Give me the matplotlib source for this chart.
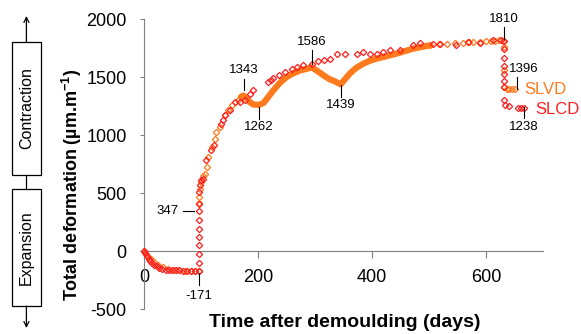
import numpy as np
import matplotlib
matplotlib.use('Agg')
import matplotlib.pyplot as plt
from matplotlib.patches import Rectangle

plt.rcParams['font.family'] = ['Liberation Sans', 'DejaVu Sans']
plt.rcParams['mathtext.fontset'] = 'custom'
plt.rcParams['mathtext.rm'] = 'Liberation Sans'
plt.rcParams['mathtext.bf'] = 'Liberation Sans:bold'
plt.rcParams['axes.unicode_minus'] = False

# SLCD (rouge)
slcd_days = [0, 2, 5, 8, 11, 14, 18, 22, 27, 32, 38, 44, 50, 56, 62, 69, 76, 83, 90, 96,
             96, 96, 96, 96, 96, 96, 96, 96, 97, 98, 100,
             104, 109, 117, 122, 136, 139, 142, 151, 160, 168, 177, 186, 192,
             218, 223, 227, 236, 247, 259, 268, 279, 294, 306, 315, 326, 338, 353,
             373, 385, 396, 408, 420, 431, 449, 472, 484, 507, 519, 548, 569, 589,
             613, 627, 631, 631, 631, 631, 631, 631, 631, 631, 634, 640, 656, 662, 667]
slcd_vals = [0, -15, -40, -63, -84, -101, -115, -129, -144, -152, -158, -162, -164, -165,
             -165, -166, -167, -168, -169, -171,
             -100, -20, 52, 124, 196, 273, 347, 411, 512, 569, 612,
             627, 790, 877, 914, 1101, 1129, 1172, 1215, 1287, 1290, 1307, 1359, 1388,
             1459, 1480, 1497, 1517, 1546, 1575, 1589, 1603, 1618, 1640, 1646, 1661, 1698,
             1704, 1704, 1718, 1704, 1704, 1718, 1733, 1733, 1776, 1796, 1790, 1790, 1776,
             1804, 1797, 1819, 1825, 1810, 1740, 1670, 1600, 1530, 1470, 1416, 1302, 1259,
             1250, 1239, 1239, 1238]

# SLVD (orange) - points isolés
slvd_days = [0, 3, 7, 12, 18, 25, 33, 42, 52, 62, 72, 82, 90, 96, 96, 97, 98, 100,
             104, 107, 110, 113, 119, 125, 127, 133, 142, 148, 154, 165, 170,
             502, 517, 531, 546, 560, 571, 578, 589, 600, 608, 615, 622, 630,
             631, 631, 631, 636, 641, 646, 651]
slvd_vals = [0, -20, -45, -70, -95, -115, -135, -150, -160, -165, -168, -169, -170, -171,
             420, 470, 540, 600, 650, 670, 727, 813, 900, 971, 1028, 1071, 1172, 1215,
             1258, 1307, 1330,
             1776, 1784, 1790, 1795, 1800, 1802, 1804, 1806, 1810, 1812, 1815, 1818, 1810,
             1760, 1560, 1420, 1396, 1396, 1396, 1396]

# SLVD - partie dense (mesures quasi journalières)
slvd_dense_days = [170, 174, 180, 186, 192, 202, 210, 218, 227, 238, 250, 262, 274, 285,
                   294, 304, 315, 325, 335, 345, 352, 361, 372, 385, 396, 408, 420, 443,
                   472, 502]
slvd_dense_vals = [1330, 1343, 1320, 1285, 1265, 1262, 1280, 1330, 1388, 1450, 1502, 1535,
                   1560, 1572, 1586, 1555, 1517, 1485, 1465, 1439, 1480, 1532, 1580, 1618,
                   1642, 1661, 1675, 1704, 1747, 1776]

orange = '#FF7A1C'
red = '#FF1E1E'
grey = '#808080'

fig = plt.figure(figsize=(5.81, 3.34), dpi=100)
ax = fig.add_axes([0.2478, 0.074, 0.6868, 0.8682])

ax.plot(slvd_dense_days, slvd_dense_vals, '-', color=orange, lw=4.5,
        solid_capstyle='round', zorder=2)
ax.plot(slvd_days, slvd_vals, 'D', color=orange, mfc='none', ms=3.2, mew=0.9,
        clip_on=False, zorder=3)
ax.plot(slcd_days, slcd_vals, 'D', color=red, mfc='none', ms=3.2, mew=0.9,
        clip_on=False, zorder=4)

ax.set_xlim(0, 700)
ax.set_ylim(-500, 2000)
ax.spines['top'].set_visible(False)
ax.spines['right'].set_visible(False)
ax.spines['bottom'].set_position(('data', 0))
ax.spines['left'].set_color(grey)
ax.spines['bottom'].set_color(grey)
ax.set_xticks([0, 200, 400, 600])
ax.set_yticks([-500, 0, 500, 1000, 1500, 2000])
ax.tick_params(axis='y', direction='out', length=3, color=grey, labelsize=13, pad=9.4)
ax.tick_params(axis='x', direction='out', length=5, color=grey, labelsize=13, pad=7.5)

ax.set_xlabel('Time after demoulding (days)', fontsize=14, fontweight='bold', va='center')
ax.xaxis.set_label_coords(0.504, -0.046)
ax.set_ylabel(r'Total deformation (µm.m$^{\mathbf{-1}}$)', fontsize=13,
              fontweight='bold', va='center')
ax.yaxis.set_label_coords(-0.18, 0.43)

# annotations
lines = [((175, 175), (1388, 1489)), ((202, 202), (1244, 1144)),
         ((294, 294), (1618, 1733)), ((345, 345), (1431, 1330)),
         ((631, 631), (1833, 1933)), ((654, 654), (1402, 1503)),
         ((667, 667), (1241, 1146)), ((68, 88), (347, 347)),
         ((96, 96), (-190, -293))]
for xs, ys in lines:
    ax.plot(xs, ys, color='black', lw=0.8, clip_on=False, zorder=5)

fs = 9.5
ax.text(175, 1510, '1343', ha='center', va='bottom', fontsize=fs)
ax.text(202, 1125, '1262', ha='center', va='top', fontsize=fs)
ax.text(294, 1750, '1586', ha='center', va='bottom', fontsize=fs)
ax.text(345, 1312, '1439', ha='center', va='top', fontsize=fs)
ax.text(631, 1950, '1810', ha='center', va='bottom', fontsize=fs)
ax.text(667, 1520, '1396', ha='center', va='bottom', fontsize=fs)
ax.text(667, 1125, '1238', ha='center', va='top', fontsize=fs)
ax.text(61, 347, '347', ha='right', va='center', fontsize=fs)
ax.text(96, -330, '-171', ha='center', va='top', fontsize=fs)

ax.text(667, 1397, 'SLVD', color=orange, ha='left', va='center', fontsize=12)
ax.text(686, 1224, 'SLCD', color=red, ha='left', va='center', fontsize=12)

# encadré Contraction / Expansion à gauche
W, H = 581.0, 334.0


def fx(px):
    return px / W


def fy(py):
    return 1 - py / H


for top, bot, label in [(42, 175, 'Contraction'), (189, 306, 'Expansion')]:
    fig.add_artist(Rectangle((fx(12), fy(bot)), fx(40.7) - fx(12), fy(top) - fy(bot),
                             transform=fig.transFigure, fill=False, ec='black', lw=0.9))
    fig.text(fx(26.4), fy((top + bot) / 2), label, rotation=90, ha='center',
             va='center', fontsize=11.5)

fig.add_artist(plt.Line2D([fx(26.4), fx(26.4)], [fy(175), fy(189)],
                          transform=fig.transFigure, color='black', lw=0.9))
for y0, y1 in [(42, 16), (306, 328)]:
    fig.add_artist(matplotlib.patches.FancyArrowPatch(
        (fx(26.4), fy(y0)), (fx(26.4), fy(y1)), transform=fig.transFigure,
        arrowstyle='->', mutation_scale=9, color='black', lw=0.9,
        shrinkA=0, shrinkB=0))

fig.savefig('out.png', dpi=100)
